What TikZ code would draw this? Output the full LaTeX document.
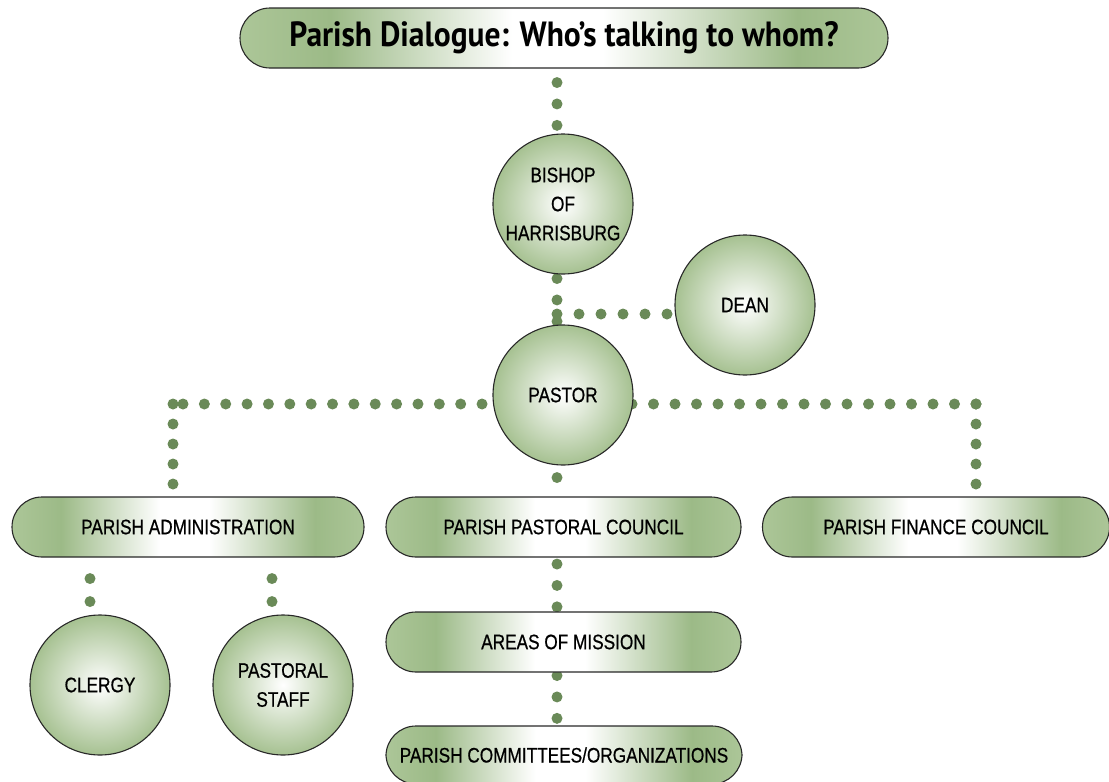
\documentclass[tikz,border=0pt]{standalone}
\usepackage{fontspec}
\newfontfamily\labelfont[FakeStretch=0.82,FakeBold=0.6]{Liberation Sans}
\newfontfamily\titlefont[FakeStretch=0.9]{PT Sans}
\usetikzlibrary{backgrounds}
\definecolor{dotgreen}{RGB}{106,138,88}
\definecolor{pillgreen}{RGB}{172,198,152}
\definecolor{pilldark}{RGB}{156,186,135}
\definecolor{ringgreen}{RGB}{166,193,145}
\definecolor{edgegray}{RGB}{40,40,40}
\pgfdeclarehorizontalshading{pillshade}{100bp}{color(0bp)=(pillgreen); color(25bp)=(pillgreen); color(32bp)=(pilldark); color(46bp)=(white); color(53bp)=(white); color(68bp)=(pilldark); color(75bp)=(pillgreen); color(100bp)=(pillgreen)}

\begin{document}
\begin{tikzpicture}[x=1pt,y=-1pt,
  pill/.style={draw=edgegray, line width=1.1pt, rounded corners=30pt, shading=pillshade, minimum height=60pt, inner sep=0pt, font=\labelfont\fontsize{21}{29}\selectfont},
  role/.style={circle, draw=edgegray, line width=1.1pt, inner color=white, outer color=ringgreen, minimum size=140pt, inner sep=0pt, align=center, font=\labelfont\fontsize{21}{29}\selectfont},
  dots/.style={draw=dotgreen, line width=11pt, line cap=round, dash pattern=on 0pt off 21.4pt}]
\useasboundingbox (0,0) rectangle (1109,782);
% heading
\node[pill, minimum width=648pt, font=\titlefont\bfseries\fontsize{35}{35}\selectfont] (title) at (564,38) {Parish Dialogue: Who’s talking to whom?};
% upper circles
\node[role] (bishop) at (563,204) {BISHOP\\OF\\HARRISBURG};
\node[role] (dean) at (745,305) {DEAN};
\node[role] (pastor) at (563,395) {PASTOR};
% councils
\node[pill, minimum width=352pt] (admin) at (188,527) {PARISH ADMINISTRATION};
\node[pill, minimum width=355pt] (ppc) at (563.5,527) {PARISH PASTORAL COUNCIL};
\node[pill, minimum width=347pt] (pfc) at (936,527) {PARISH FINANCE COUNCIL};
\node[pill, minimum width=355pt] (areas) at (563.5,642) {AREAS OF MISSION};
\node[pill, minimum width=356pt, minimum height=58pt] (comm) at (564,755) {PARISH COMMITTEES/ORGANIZATIONS};
% lower circles
\node[role] (clergy) at (100,685) {CLERGY};
\node[role] (staff) at (283,685) {PASTORAL\\STAFF};
% joints of the dotted lines
\coordinate (spine) at (557,0);
\coordinate (deanjoin) at (557,314);
\coordinate (admcorner) at (173,404);
\coordinate (fincorner) at (976,404);
\coordinate (clergyx) at (90,0);
\coordinate (staffx) at (272,0);
\begin{scope}[on background layer]
  \draw[dots, shorten <=14pt] (title.south -| spine) -- (bishop.north -| spine);
  \draw[dots, shorten <=4pt] (bishop.south -| spine) -- (pastor.north -| spine);
  \draw[dots, dash pattern=on 0pt off 22pt] (deanjoin) -- (deanjoin -| dean);
  % pastor to the three councils
  \draw[dots, dash pattern=on 0pt off 21.36pt] ([xshift=10pt]admcorner) -- (admcorner -| pastor);
  \draw[dots, dash pattern=on 0pt off 20pt] (admcorner) -- (admcorner |- admin.north);
  \draw[dots, dash pattern=on 0pt off 21.5pt] (fincorner) -- (fincorner -| pastor);
  \draw[dots, dash pattern=on 0pt off 20pt] (fincorner) -- (fincorner |- pfc.north);
  \draw[dots, shorten <=12pt] (pastor.south -| spine) -- (ppc.north -| spine);
  % down the middle
  \draw[dots, shorten <=6.5pt] (ppc.south -| spine) -- (areas.north -| spine);
  \draw[dots, shorten <=3pt] (areas.south -| spine) -- (comm.north -| spine);
  % administration to clergy and staff
  \draw[dots, dash pattern=on 0pt off 23pt, shorten <=21pt] (admin.south -| clergyx) -- (clergy.north -| clergyx);
  \draw[dots, dash pattern=on 0pt off 23pt, shorten <=21pt] (admin.south -| staffx) -- (staff.north -| staffx);
\end{scope}
\end{tikzpicture}
\end{document}
